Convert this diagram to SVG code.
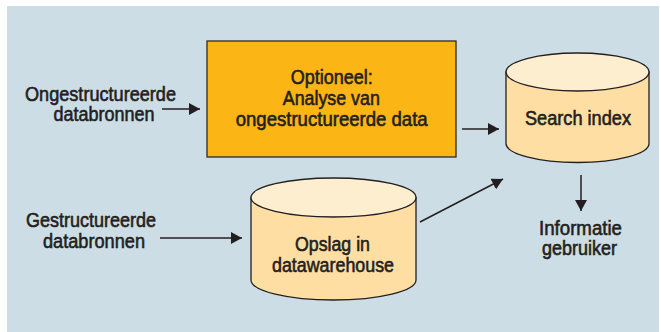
<svg xmlns="http://www.w3.org/2000/svg" width="660" height="332" viewBox="0 0 660 332">
  <defs>
    <marker id="arrow" viewBox="0 0 12 12" refX="11" refY="6" markerWidth="12" markerHeight="12" markerUnits="userSpaceOnUse" orient="auto">
      <path d="M0,0 L11,6 L0,12 Z" fill="#231f20"/>
    </marker>
  </defs>
  <style>
    text { font-family: "Liberation Sans", Arial, sans-serif; font-size: 20px; fill: #231f20; stroke: #231f20; stroke-width: 0.6; text-anchor: middle; }
    .conn { stroke: #231f20; stroke-width: 1.5; fill: none; marker-end: url(#arrow); }
    .box { fill: #fbb616; stroke: #3a3530; stroke-width: 1.4; }
    .cyl-body { fill: #fedea3; stroke: #231f20; stroke-width: 1.3; }
    .cyl-top { fill: #feeed0; stroke: #231f20; stroke-width: 1.3; }
  </style>

  <!-- panel background -->
  <rect x="7" y="6" width="652" height="326" fill="#cddde6"/>

  <!-- source labels -->
  <g id="unstructured-sources">
    <text x="100.5" y="101" textLength="151" lengthAdjust="spacingAndGlyphs">Ongestructureerde</text>
    <text x="104" y="121" textLength="101" lengthAdjust="spacingAndGlyphs">databronnen</text>
  </g>
  <g id="structured-sources">
    <text x="91" y="227" textLength="130" lengthAdjust="spacingAndGlyphs">Gestructureerde</text>
    <text x="94" y="248" textLength="102" lengthAdjust="spacingAndGlyphs">databronnen</text>
  </g>

  <!-- optional analysis step -->
  <g id="analysis">
    <rect class="box" x="207" y="41" width="249" height="116"/>
    <text x="331.7" y="84" textLength="82" lengthAdjust="spacingAndGlyphs">Optioneel:</text>
    <text x="331.3" y="105" textLength="97" lengthAdjust="spacingAndGlyphs">Analyse van</text>
    <text x="331.7" y="126" textLength="192" lengthAdjust="spacingAndGlyphs">ongestructureerde data</text>
  </g>

  <!-- search index store -->
  <g id="search-index">
    <path class="cyl-body" d="M506,72 L506,143.5 A71.5,19 0 0 0 649,143.5 L649,72 Z"/>
    <ellipse class="cyl-top" cx="577.5" cy="72" rx="71.5" ry="19"/>
    <text x="578" y="125" textLength="106" lengthAdjust="spacingAndGlyphs">Search index</text>
  </g>

  <!-- data warehouse store -->
  <g id="datawarehouse">
    <path class="cyl-body" d="M251,197.5 L251,280 A82.5,20 0 0 0 416,280 L416,197.5 Z"/>
    <ellipse class="cyl-top" cx="333.5" cy="197.5" rx="82.5" ry="19.5"/>
    <text x="332.5" y="251" textLength="75" lengthAdjust="spacingAndGlyphs">Opslag in</text>
    <text x="333" y="272" textLength="122" lengthAdjust="spacingAndGlyphs">datawarehouse</text>
  </g>

  <!-- user output -->
  <g id="user-info">
    <text x="580.5" y="235" textLength="83" lengthAdjust="spacingAndGlyphs">Informatie</text>
    <text x="579.5" y="255" textLength="75" lengthAdjust="spacingAndGlyphs">gebruiker</text>
  </g>

  <!-- connectors -->
  <g id="connectors">
    <line class="conn" x1="162" y1="109" x2="200" y2="109"/>
    <line class="conn" x1="462" y1="129" x2="499" y2="129"/>
    <line class="conn" x1="160" y1="238" x2="242" y2="238"/>
    <line class="conn" x1="420" y1="222" x2="503" y2="179"/>
    <line class="conn" x1="581" y1="175" x2="581" y2="211"/>
  </g>
</svg>
